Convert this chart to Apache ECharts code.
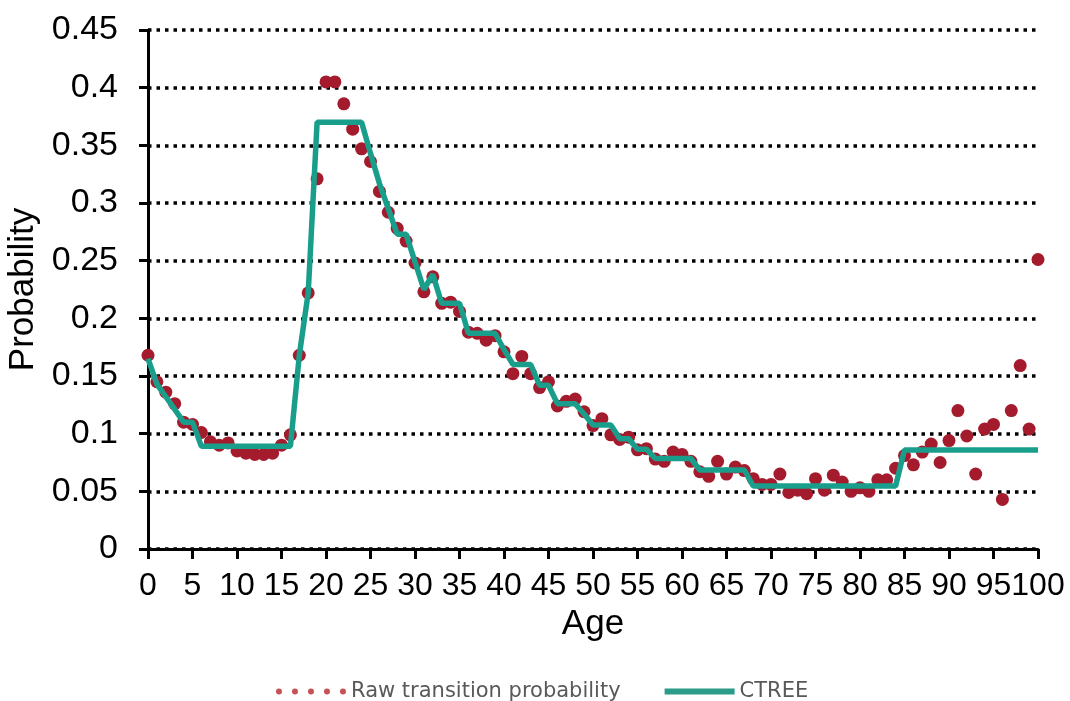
<!DOCTYPE html>
<html>
<head>
<meta charset="utf-8">
<script src="https://cdn.jsdelivr.net/npm/echarts@6/dist/echarts.min.js"></script>
<style>
  html, body { margin: 0; padding: 0; background: #fff; }
  #chart { width: 1070px; height: 701px; }
</style>
</head>
<body>
<div id="chart"></div>
<script>
// ages 0..100
const ages = Array.from({ length: 101 }, (_, i) => i);

// raw transition probability, one value per age
const rawProb = [
  0.168, 0.145, 0.136, 0.126, 0.110, 0.108, 0.101, 0.093, 0.090, 0.092,
  0.085, 0.083, 0.082, 0.082, 0.083, 0.090, 0.099, 0.168, 0.222, 0.321,
  0.405, 0.405, 0.386, 0.364, 0.347, 0.336, 0.310, 0.292, 0.278, 0.267,
  0.248, 0.223, 0.236, 0.213, 0.214, 0.206, 0.188, 0.187, 0.181, 0.185,
  0.171, 0.152, 0.167, 0.152, 0.140, 0.145, 0.124, 0.128, 0.130, 0.119,
  0.107, 0.113, 0.099, 0.095, 0.097, 0.086, 0.087, 0.078, 0.076, 0.084,
  0.082, 0.076, 0.067, 0.063, 0.076, 0.065, 0.071, 0.068, 0.061, 0.056,
  0.056, 0.065, 0.049, 0.051, 0.048, 0.061, 0.051, 0.064, 0.058, 0.050,
  0.053, 0.050, 0.060, 0.060, 0.070, 0.081, 0.073, 0.084, 0.091, 0.075,
  0.094, 0.120, 0.098, 0.065, 0.104, 0.108, 0.043, 0.120, 0.159, 0.104,
  0.251
];

// CTREE fitted values
const ctree = [
  0.165, 0.143, 0.132, 0.121, 0.110, 0.110,
  0.089, 0.089, 0.089, 0.089, 0.089, 0.089, 0.089, 0.089, 0.089, 0.089, 0.089,
  0.168, 0.222,
  0.370, 0.370, 0.370, 0.370, 0.370, 0.370,
  0.343, 0.317, 0.295, 0.273, 0.273, 0.249, 0.225, 0.238,
  0.213, 0.213, 0.213,
  0.187, 0.187, 0.187, 0.187,
  0.173,
  0.160, 0.160, 0.160,
  0.142, 0.142,
  0.126, 0.126, 0.126,
  0.117,
  0.1075, 0.1075, 0.1075,
  0.0957, 0.0957,
  0.0865, 0.0865,
  0.0785, 0.0785, 0.0785, 0.0785, 0.0785,
  0.0685, 0.0685, 0.0685, 0.0685, 0.0685, 0.0685,
  0.0546, 0.0546, 0.0546, 0.0546, 0.0546, 0.0546, 0.0546, 0.0546, 0.0546,
  0.0546, 0.0546, 0.0546, 0.0546, 0.0546, 0.0546, 0.0546, 0.0546,
  0.0859, 0.0859, 0.0859, 0.0859, 0.0859, 0.0859, 0.0859, 0.0859,
  0.0859, 0.0859, 0.0859, 0.0859, 0.0859, 0.0859, 0.0859, 0.0859
];

const font = 'Liberation Sans, Arial, sans-serif';
// five dots for the legend icon
const dotsIcon = 'path://' + [0, 16, 32, 48, 64]
  .map(x => `M${x},3a3,3 0 1,0 6,0a3,3 0 1,0 -6,0z`).join(' ');

const chart = echarts.init(document.getElementById('chart'));
chart.setOption({
  backgroundColor: '#fff',
  animation: false,
  grid: {
    left: 148,
    right: 32,
    top: 30,
    bottom: 152,
    outerBoundsMode: 'none'
  },
  legend: {
    top: 676,
    left: 271,
    itemWidth: 70,
    itemHeight: 6,
    itemGap: 44,
    textStyle: {
      fontFamily: 'DejaVu Sans, sans-serif',
      fontSize: 21,
      color: '#595959'
    },
    data: [
      { name: 'Raw transition probability', icon: dotsIcon, itemStyle: { color: '#c4545a' } },
      { name: 'CTREE', icon: 'rect', itemStyle: { color: '#2a9c88' } }
    ]
  },
  xAxis: {
    type: 'value',
    min: 0,
    max: 100,
    interval: 5,
    name: 'Age',
    nameLocation: 'middle',
    nameGap: 56,
    nameTextStyle: { fontFamily: font, fontSize: 35, color: '#000' },
    axisLine: { lineStyle: { color: '#000', width: 3 } },
    axisTick: { length: 10, lineStyle: { color: '#000', width: 3 } },
    axisLabel: {
      margin: 21,
      fontFamily: font,
      fontSize: 32,
      color: '#000',
      showMinLabel: true,
      showMaxLabel: true,
      hideOverlap: false
    },
    splitLine: { show: false }
  },
  yAxis: {
    type: 'value',
    min: 0,
    max: 0.45,
    interval: 0.05,
    name: 'Probability',
    nameLocation: 'middle',
    nameGap: 100,
    nameTextStyle: { fontFamily: font, fontSize: 35, color: '#000' },
    axisLine: { show: true, lineStyle: { color: '#000', width: 3 } },
    axisTick: { show: true, length: 9, lineStyle: { color: '#000', width: 3 } },
    axisLabel: {
      margin: 30,
      fontFamily: font,
      fontSize: 34,
      color: '#000'
    },
    splitLine: {
      lineStyle: { color: '#000', width: 3.5, type: [3.5, 5] }
    }
  },
  series: [
    {
      name: 'Raw transition probability',
      type: 'scatter',
      symbolSize: 13,
      itemStyle: { color: '#a31b2c', opacity: 1 },
      data: ages.map(a => [a, rawProb[a]]),
      z: 2
    },
    {
      name: 'CTREE',
      type: 'line',
      showSymbol: false,
      lineStyle: { color: '#1a9e8c', width: 5.5 },
      itemStyle: { color: '#1a9e8c' },
      data: ages.map(a => [a, ctree[a]]),
      z: 3
    }
  ]
});
</script>
</body>
</html>
